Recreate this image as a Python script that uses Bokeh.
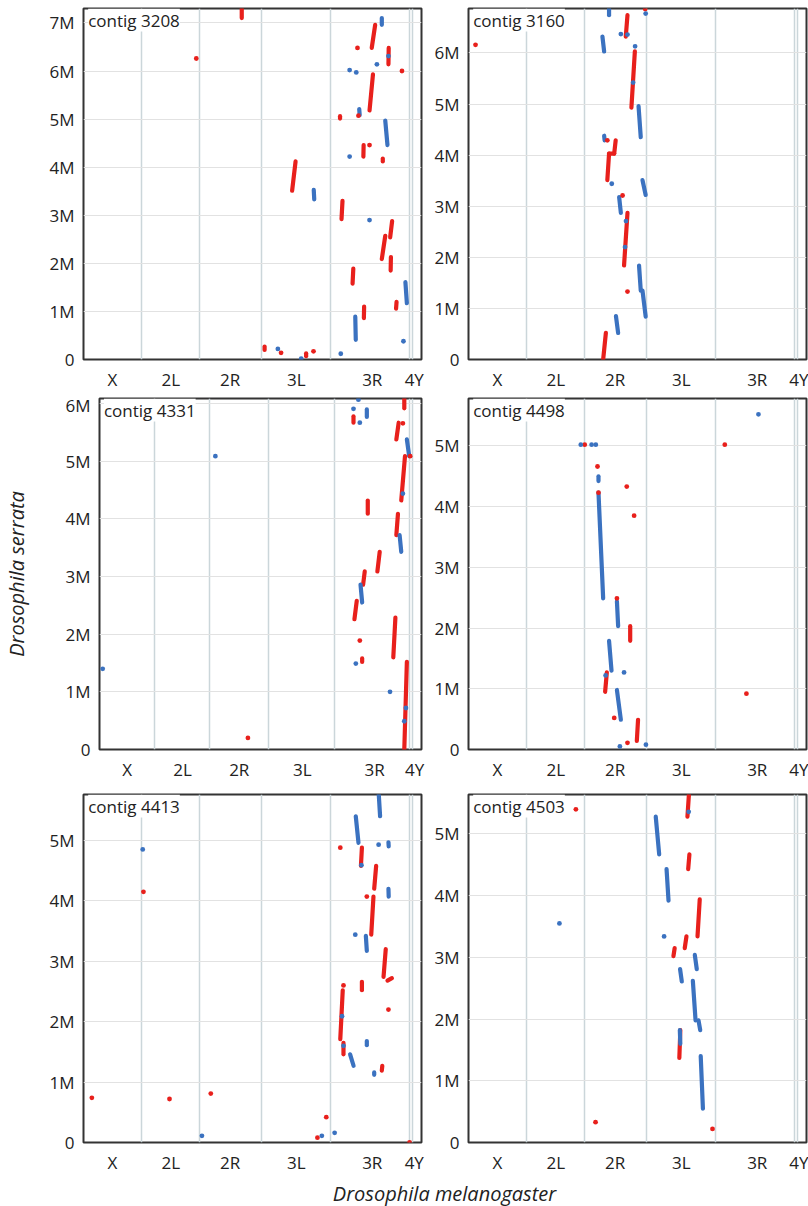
from bokeh.plotting import figure
from bokeh.layouts import column, row
from bokeh.models import FixedTicker, Range1d, Label
from bokeh.core.properties import value
from bokeh.embed import file_html
from bokeh.resources import INLINE

# ---------------- data ----------------
chrom_names = ["X", "2L", "2R", "3L", "3R", "4", "Y"]
chrom_sizes = [23.54, 23.51, 25.29, 28.11, 32.08, 1.35, 3.67]  # Mb, D. melanogaster
x_tick_pos = [11.8, 35.5, 59.7, 86.6, 117.5, 134.6]
x_tick_labels = ["X", "2L", "2R", "3L", "3R", "4Y"]

contig_names = ["contig 3208", "contig 3160", "contig 4331", "contig 4498", "contig 4413", "contig 4503"]
contig_lengths = [7.30, 6.87, 6.09, 5.78, 5.76, 5.64]  # Mb, D. serrata

# alignment blocks (x0, y0, x1, y1) in Mb; red = same strand, blue = reverse
c3208_red = [(64.4, 7.10, 64.4, 7.35), (84.9, 3.51, 86.3, 4.12), (73.7, 0.20, 73.7, 0.27),
             (90.6, 0.07, 90.6, 0.13), (105.0, 2.92, 105.4, 3.30), (104.4, 5.01, 104.4, 5.06),
             (109.5, 1.58, 109.8, 1.89), (114.1, 0.86, 114.2, 1.10), (113.9, 4.22, 114.0, 4.46),
             (116.4, 5.18, 117.8, 5.93), (117.3, 6.48, 118.7, 6.96), (124.1, 6.14, 124.2, 6.48),
             (121.8, 4.12, 121.8, 4.18), (121.4, 2.09, 122.8, 2.57), (124.8, 2.54, 125.6, 2.88),
             (125.0, 1.85, 125.1, 2.13), (127.2, 1.06, 127.4, 1.20)]
c3208_blue = [(93.7, 3.53, 93.9, 3.33), (112.2, 5.21, 112.4, 5.08), (121.4, 7.10, 121.4, 6.96),
              (122.8, 4.97, 123.7, 4.46), (110.6, 0.89, 110.8, 0.41), (131.0, 1.61, 131.6, 1.17)]
c3208_red_dots = [(45.9, 6.26), (80.4, 0.14), (93.6, 0.17), (111.5, 6.48), (116.4, 4.46),
                  (111.9, 5.07), (129.6, 6.00)]
c3208_blue_dots = [(79.1, 0.22), (88.6, 0.02), (104.7, 0.12), (108.3, 4.22), (108.3, 6.02),
                   (111.0, 5.97), (119.4, 6.14), (124.1, 6.31), (116.4, 2.90), (130.2, 0.38)]

c3160_red = [(64.0, 6.32, 64.7, 6.74), (66.3, 4.93, 67.7, 6.03), (59.3, 4.03, 59.9, 4.29),
             (56.5, 3.51, 57.2, 4.03), (57.2, 4.03, 59.3, 4.03), (63.3, 1.84, 64.7, 2.87),
             (54.8, 0.00, 55.9, 0.52)]
c3160_blue = [(57.2, 6.86, 57.2, 6.74), (54.5, 6.32, 55.2, 6.03), (69.2, 4.96, 70.1, 4.35),
              (55.2, 4.38, 55.4, 4.29), (70.8, 3.51, 72.1, 3.22), (61.3, 3.18, 62.0, 2.87),
              (69.4, 1.84, 70.1, 1.35), (70.8, 1.35, 72.1, 0.84), (60.0, 0.85, 60.9, 0.52)]
c3160_red_dots = [(2.86, 6.16), (71.9, 6.86), (56.5, 4.29), (62.7, 3.21), (64.7, 1.33)]
c3160_blue_dots = [(62.0, 6.37), (64.7, 6.36), (72.1, 6.77), (67.8, 6.13), (67.0, 5.42),
                   (58.3, 3.44), (64.1, 2.71), (63.7, 2.20)]

c4331_red = [(108.5, 5.67, 108.5, 5.78), (130.2, 5.92, 130.2, 6.12), (126.8, 5.38, 127.8, 5.67),
             (128.9, 4.32, 130.5, 5.09), (114.6, 4.09, 114.6, 4.32), (126.8, 3.72, 127.5, 4.09),
             (118.7, 3.09, 119.7, 3.43), (112.6, 2.86, 113.3, 3.09), (108.9, 2.26, 109.9, 2.58),
             (125.5, 1.60, 126.4, 2.29), (112.2, 1.52, 112.2, 1.58), (130.2, 0.00, 131.3, 1.52)]
c4331_blue = [(114.2, 5.90, 114.2, 5.77), (131.3, 5.38, 132.3, 5.09), (128.2, 3.72, 128.9, 3.43),
              (111.5, 2.86, 112.2, 2.55)]
c4331_red_dots = [(63.4, 0.20), (129.6, 5.66), (132.7, 5.09), (111.2, 1.89)]
c4331_blue_dots = [(1.36, 1.40), (49.5, 5.09), (108.5, 5.91), (110.6, 6.07), (111.2, 5.67),
                   (129.6, 4.44), (109.5, 1.49), (124.1, 1.00), (130.9, 0.72), (130.2, 0.49)]

c4498_red = [(65.8, 1.79, 65.8, 2.03), (55.6, 0.95, 56.3, 1.27), (68.5, 0.14, 69.0, 0.49)]
c4498_blue = [(52.9, 4.50, 52.9, 4.42), (52.9, 4.23, 54.8, 2.49), (60.4, 2.44, 60.9, 2.03),
              (57.2, 1.79, 58.2, 1.30), (60.4, 0.98, 62.0, 0.49)]
c4498_red_dots = [(47.3, 5.02), (52.5, 4.66), (52.9, 4.23), (60.4, 2.49), (64.4, 4.33),
                  (67.4, 3.85), (59.3, 0.52), (64.7, 0.11), (104.3, 5.02), (113.1, 0.92)]
c4498_blue_dots = [(45.7, 5.02), (50.1, 5.02), (51.8, 5.02), (55.8, 1.22), (63.3, 1.27),
                   (61.6, 0.05), (72.2, 0.08), (118.0, 5.52)]

c4413_red = [(112.9, 4.58, 113.3, 4.88), (118.3, 4.20, 119.1, 4.58), (117.1, 3.44, 118.0, 4.07),
             (122.1, 2.74, 123.0, 3.20), (123.7, 2.68, 125.5, 2.72), (113.3, 2.52, 113.3, 2.66),
             (104.5, 1.71, 105.5, 2.52), (105.8, 1.46, 105.8, 1.65), (121.4, 1.19, 121.6, 1.27)]
c4413_blue = [(110.8, 5.40, 111.9, 4.96), (120.1, 5.80, 120.7, 5.40), (124.1, 4.97, 124.2, 4.90),
              (124.1, 4.20, 124.2, 4.07), (114.9, 3.42, 115.3, 3.17), (108.5, 1.46, 109.9, 1.27),
              (115.3, 1.68, 115.3, 1.61), (118.3, 1.16, 118.3, 1.12)]
c4413_red_dots = [(3.4, 0.74), (24.4, 4.15), (35.0, 0.72), (51.8, 0.81), (95.2, 0.08),
                  (98.8, 0.42), (104.5, 4.88), (115.3, 4.07), (105.8, 2.60), (124.1, 2.20),
                  (132.7, 0.00)]
c4413_blue_dots = [(24.1, 4.85), (48.2, 0.11), (97.0, 0.11), (102.2, 0.16), (120.1, 4.93),
                   (113.1, 4.59), (110.6, 3.44), (105.2, 2.09), (105.8, 1.60)]

c4503_red = [(89.1, 5.28, 89.8, 5.70), (89.4, 4.43, 89.9, 4.67), (93.2, 3.34, 94.1, 3.94),
             (88.0, 3.15, 88.7, 3.34), (83.4, 3.02, 83.9, 3.15), (85.8, 1.37, 86.2, 1.82)]
c4503_blue = [(76.2, 5.28, 77.6, 4.67), (80.6, 4.43, 81.4, 3.92), (92.1, 3.04, 92.9, 2.81),
              (86.1, 2.81, 86.8, 2.61), (91.3, 2.62, 92.4, 1.98), (93.6, 1.98, 94.3, 1.82),
              (86.0, 1.82, 86.2, 1.60), (94.5, 1.40, 95.4, 0.55)]
c4503_red_dots = [(43.7, 5.40), (51.7, 0.33), (99.3, 0.22)]
c4503_blue_dots = [(37.0, 3.55), (79.6, 3.34), (89.6, 5.36)]

# ---------------- styling ----------------
RED = "#e8201c"
BLUE = "#3b72c0"
FONT = "Open Sans"
TEXT_COLOR = "#222222"

genome_total = sum(chrom_sizes)
boundaries = []
acc = 0.0
for s in chrom_sizes[:-1]:
    acc += s
    boundaries.append(round(acc, 2))

FRAME_W, FRAME_H = 338, 355


def make_panel(idx, red, blue, red_dots, blue_dots, bl, br, bt, bb, ylabel=None):
    ymax = contig_lengths[idx]
    p = figure(width=bl + FRAME_W + br, height=bt + FRAME_H + bb,
               x_range=Range1d(0, genome_total), y_range=Range1d(0, ymax),
               output_backend="svg", toolbar_location=None,
               min_border_left=bl, min_border_right=br,
               min_border_top=bt, min_border_bottom=bb)
    p.background_fill_color = "white"
    p.border_fill_color = "white"
    p.outline_line_color = "#333333"
    p.outline_line_width = 2

    # axes
    p.xaxis.ticker = FixedTicker(ticks=x_tick_pos)
    p.xaxis.major_label_overrides = {t: l for t, l in zip(x_tick_pos, x_tick_labels)}
    yt = list(range(0, int(ymax) + 1))
    p.yaxis.ticker = FixedTicker(ticks=yt)
    p.yaxis.major_label_overrides = {t: ("0" if t == 0 else f"{t}M") for t in yt}
    for ax in (p.xaxis, p.yaxis):
        ax.axis_line_color = None
        ax.major_tick_line_color = None
        ax.minor_tick_line_color = None
        ax.major_label_text_font = FONT
        ax.major_label_text_font_size = "17px"
        ax.major_label_text_color = TEXT_COLOR
    p.xaxis.major_label_standoff = 2
    p.yaxis.major_label_standoff = 3
    if ylabel:
        p.yaxis.axis_label = ylabel
        p.yaxis.axis_label_text_font = FONT
        p.yaxis.axis_label_text_font_style = "italic"
        p.yaxis.axis_label_text_font_size = "20px"
        p.yaxis.axis_label_text_color = TEXT_COLOR
        p.yaxis.axis_label_standoff = 32

    # grids
    p.xgrid.ticker = FixedTicker(ticks=boundaries)
    p.xgrid.grid_line_color = "#cbd6da"
    p.xgrid.grid_line_width = 1.5
    p.ygrid.grid_line_color = "#e2e2e2"
    p.ygrid.grid_line_width = 1

    def seg(data, color):
        if not data:
            return
        x0, y0, x1, y1 = zip(*data)
        p.segment(x0=list(x0), y0=list(y0), x1=list(x1), y1=list(y1),
                  line_color=color, line_width=4.2, line_cap="round")

    def dots(data, color):
        if not data:
            return
        xs, ys = zip(*data)
        p.scatter(x=list(xs), y=list(ys), size=4.8, fill_color=color, line_color=None)

    seg(red, RED)
    seg(blue, BLUE)
    dots(red_dots, RED)
    dots(blue_dots, BLUE)

    lab = Label(x=1.9, y=ymax, text=contig_names[idx], text_baseline="top",
                text_font=FONT, text_font_size="17px", text_color=TEXT_COLOR,
                background_fill_color="white", background_fill_alpha=1.0)
    p.add_layout(lab)
    return p


p1 = make_panel(0, c3208_red, c3208_blue, c3208_red_dots, c3208_blue_dots, 83, 8, 8, 30)
p2 = make_panel(1, c3160_red, c3160_blue, c3160_red_dots, c3160_blue_dots, 39, 2, 8, 30)
p3 = make_panel(2, c4331_red, c4331_blue, c4331_red_dots, c4331_blue_dots, 83, 8, 5, 30,
                ylabel="Drosophila serrata")
p4 = make_panel(3, c4498_red, c4498_blue, c4498_red_dots, c4498_blue_dots, 39, 2, 5, 30)
p5 = make_panel(4, c4413_red, c4413_blue, c4413_red_dots, c4413_blue_dots, 83, 8, 11, 27)
p6 = make_panel(5, c4503_red, c4503_blue, c4503_red_dots, c4503_blue_dots, 39, 2, 11, 27)

# x-axis title strip
XL_H = 30
xl = figure(width=808, height=XL_H, x_range=Range1d(0, 808), y_range=Range1d(0, XL_H),
            output_backend="svg", toolbar_location=None,
            x_axis_location=None, y_axis_location=None, min_border=0)
xl.outline_line_color = None
xl.grid.visible = False
xl.text(x=[444], y=[13], text=["Drosophila melanogaster"], text_font=value(FONT),
        text_font_style="italic", text_font_size="20px", text_color=TEXT_COLOR,
        text_align="center", text_baseline="middle")

layout = column(row(p1, p2), row(p3, p4), row(p5, p6), xl)

open("out.html", "w").write(file_html(layout, INLINE))
